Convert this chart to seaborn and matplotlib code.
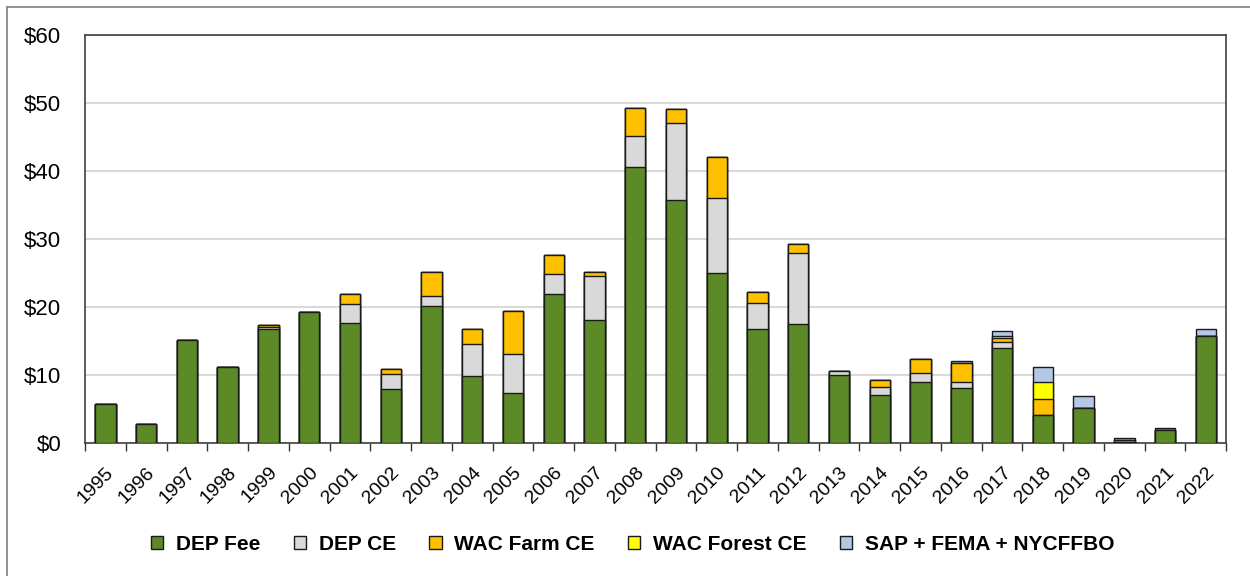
import matplotlib
matplotlib.use("Agg")
import matplotlib.pyplot as plt
import seaborn as sns
import numpy as np
import pandas as pd
from matplotlib.patches import Patch
from matplotlib.lines import Line2D

years = [str(y) for y in range(1995, 2023)]
dep_fee = [5.7, 2.8, 15.2, 11.1, 16.7, 19.3, 17.7, 8.0, 20.2, 9.9, 7.4, 21.9, 18.1, 40.6,
           35.8, 25.0, 16.8, 17.5, 10.0, 7.0, 8.9, 8.1, 13.9, 4.1, 5.1, 0.2, 1.9, 15.7]
dep_ce = [0, 0, 0, 0, 0.4, 0, 2.7, 2.2, 1.4, 4.7, 5.7, 3.0, 6.5, 4.5,
          11.3, 11.1, 3.8, 10.5, 0.6, 1.3, 1.4, 0.8, 0.9, 0, 0, 0, 0, 0]
wac_farm = [0, 0, 0, 0, 0.2, 0, 1.5, 0.7, 3.5, 2.2, 6.3, 2.7, 0.6, 4.2,
            2.0, 5.9, 1.6, 1.2, 0, 1.0, 2.0, 2.8, 0.7, 2.3, 0, 0.25, 0, 0]
wac_forest = [0, 0, 0, 0, 0, 0, 0, 0, 0, 0, 0, 0, 0, 0,
              0, 0, 0, 0, 0, 0, 0, 0, 0.3, 2.5, 0, 0, 0, 0]
sap_fema = [0, 0, 0, 0, 0, 0, 0, 0, 0, 0, 0, 0, 0, 0,
            0, 0, 0, 0, 0, 0, 0.1, 0.3, 0.6, 2.2, 1.8, 0.35, 0.35, 1.1]

series_names = ["DEP Fee", "DEP CE", "WAC Farm CE", "WAC Forest CE", "SAP + FEMA + NYCFFBO"]
series_vals = [dep_fee, dep_ce, wac_farm, wac_forest, sap_fema]
colors = ["#5B8A27", "#D9D9D9", "#FFC000", "#FFFF00", "#B4C7E7"]

sns.set_theme(style="white")
plt.rcParams['font.family'] = ['Liberation Sans', 'DejaVu Sans']
plt.rcParams['text.color'] = 'black'
plt.rcParams['xtick.color'] = 'black'
plt.rcParams['ytick.color'] = 'black'

fig = plt.figure(figsize=(12.5, 5.76), dpi=100)
ax = fig.add_axes([0.068, 0.231, 0.913, 0.708])

cum = np.cumsum(np.array(series_vals, dtype=float), axis=0)
for i in range(len(series_names) - 1, -1, -1):
    df = pd.DataFrame({"year": years, "value": cum[i]})
    sns.barplot(data=df, x="year", y="value", color=colors[i], saturation=1,
                width=0.5, edgecolor="#1a1a1a", linewidth=1.0, ax=ax, zorder=3)

ax.set_ylim(0, 60)
ax.set_xlim(-0.5, len(years) - 0.5)
ax.set_yticks(np.arange(0, 61, 10))
ax.set_yticklabels([f"${v}" for v in range(0, 61, 10)], fontsize=16)
ax.yaxis.grid(True, color="#D9D9D9", linewidth=1.5, zorder=0)
ax.set_axisbelow(True)
ax.set_xlabel("")
ax.set_ylabel("")

ax.set_xticks(range(len(years)))
ax.set_xticklabels(years, rotation=45, ha="right", rotation_mode="anchor", fontsize=14)
ax.tick_params(axis="x", which="major", length=0, pad=15)
ax.set_xticks(np.arange(-0.5, len(years), 1.0), minor=True)
ax.tick_params(axis="x", which="minor", length=6, width=1, color="#333333", bottom=True)
ax.tick_params(axis="y", length=0, pad=17)

for s in ax.spines.values():
    s.set_visible(True)
    s.set_color("#404040")
    s.set_linewidth(1.2)

handles = [Patch(facecolor=c, edgecolor="#1a1a1a", linewidth=1) for c in colors]
leg = fig.legend(handles, series_names, loc="center", bbox_to_anchor=(0.506, 0.055),
                 ncol=5, frameon=False, handlelength=0.6, handleheight=0.6,
                 columnspacing=1.6, handletextpad=0.6,
                 prop={"weight": "bold", "size": 15})

# outer frame (left and top edges visible in the reference crop)
fig.add_artist(Line2D([0.0056, 0.0056], [0, 0.988], transform=fig.transFigure,
                      color="#7f7f7f", linewidth=1.2))
fig.add_artist(Line2D([0.0056, 1.0], [0.988, 0.988], transform=fig.transFigure,
                      color="#7f7f7f", linewidth=1.2))

fig.savefig("out.png", dpi=100, facecolor="white")
